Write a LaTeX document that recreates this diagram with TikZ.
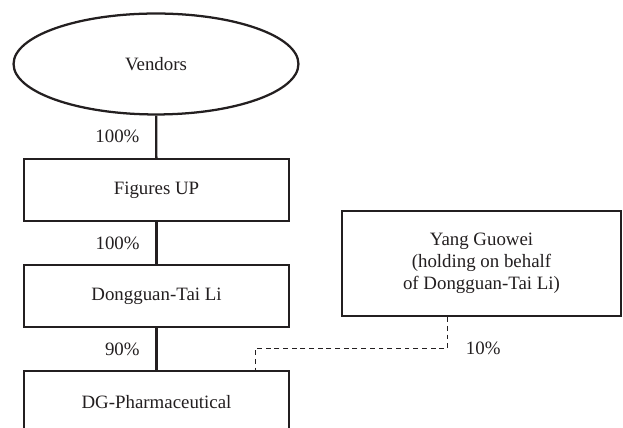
\documentclass[tikz,border=0pt]{standalone}
\usepackage{fontspec}
\setmainfont{Liberation Serif}
\usepackage{tikz}
\usetikzlibrary{shapes.geometric,positioning}
\definecolor{ChartBlack}{HTML}{231F20}
\definecolor{ChartWhite}{HTML}{FFFFFF}
\tikzset{
    % Base node style
    basenode/.style={
        draw=ChartBlack,
        fill=ChartWhite,
        line width=1.2pt,
        align=center,
        text=ChartBlack,
        font=\fontsize{10}{11.7}\selectfont
    },
    % Owner ellipse
    ownernode/.style={
        basenode,
        ellipse,
        inner sep=0pt,
        minimum width=151pt,
        minimum height=53.5pt
    },
    % Company box
    companynode/.style={
        basenode,
        rectangle,
        minimum width=140.5pt,
        minimum height=32.9pt
    },
    % Nominee box
    nomineenode/.style={
        basenode,
        rectangle,
        minimum width=147.9pt,
        minimum height=55.7pt
    },
    % Holding line (straight lines only)
    holdline/.style={
        line width=1.2pt,
        draw=ChartBlack
    },
    % Nominee holding line
    nomineeline/.style={
        line width=0.5pt,
        draw=ChartBlack,
        dash pattern=on 2.6pt off 2pt
    },
    % Share label
    sharelabel/.style={
        text=ChartBlack,
        font=\fontsize{10}{11.7}\selectfont
    }
}

\begin{document}
\begin{tikzpicture}[x=0.53pt, y=0.53pt]
        \useasboundingbox (0,0) rectangle (623,428);
        \clip (0,0) rectangle (623,428);

        % Owners
        \node[ownernode] (vendors) at (156,364) {Vendors};

        % Group companies
        \node[companynode] (figures) at (156.5,238) {Figures UP};
        \node[companynode] (dongguan) at (156.5,132) {Dongguan-Tai Li};
        \node[companynode] (dgpharm) at (156.5,26) {DG-Pharmaceutical};

        % Nominee
        \node[nomineenode] (yang) at (481.5,164.5) {Yang Guowei\\(holding on behalf\\of Dongguan-Tai Li)};

        % Holdings
        \draw[holdline] (vendors) -- node[sharelabel, midway, left=5pt] {100\%} (figures);
        \draw[holdline] (figures) -- node[sharelabel, midway, left=5pt] {100\%} (dongguan);
        \draw[holdline] (dongguan) -- node[sharelabel, midway, left=5pt] {90\%} (dgpharm);

        % Nominee holding
        \draw[nomineeline] ([xshift=-17.8pt]yang.south) -- ++(0,-31)
            node[sharelabel, right=6pt] {10\%} -| ([xshift=-18.5pt]dgpharm.north east);
    \end{tikzpicture}
\end{document}
